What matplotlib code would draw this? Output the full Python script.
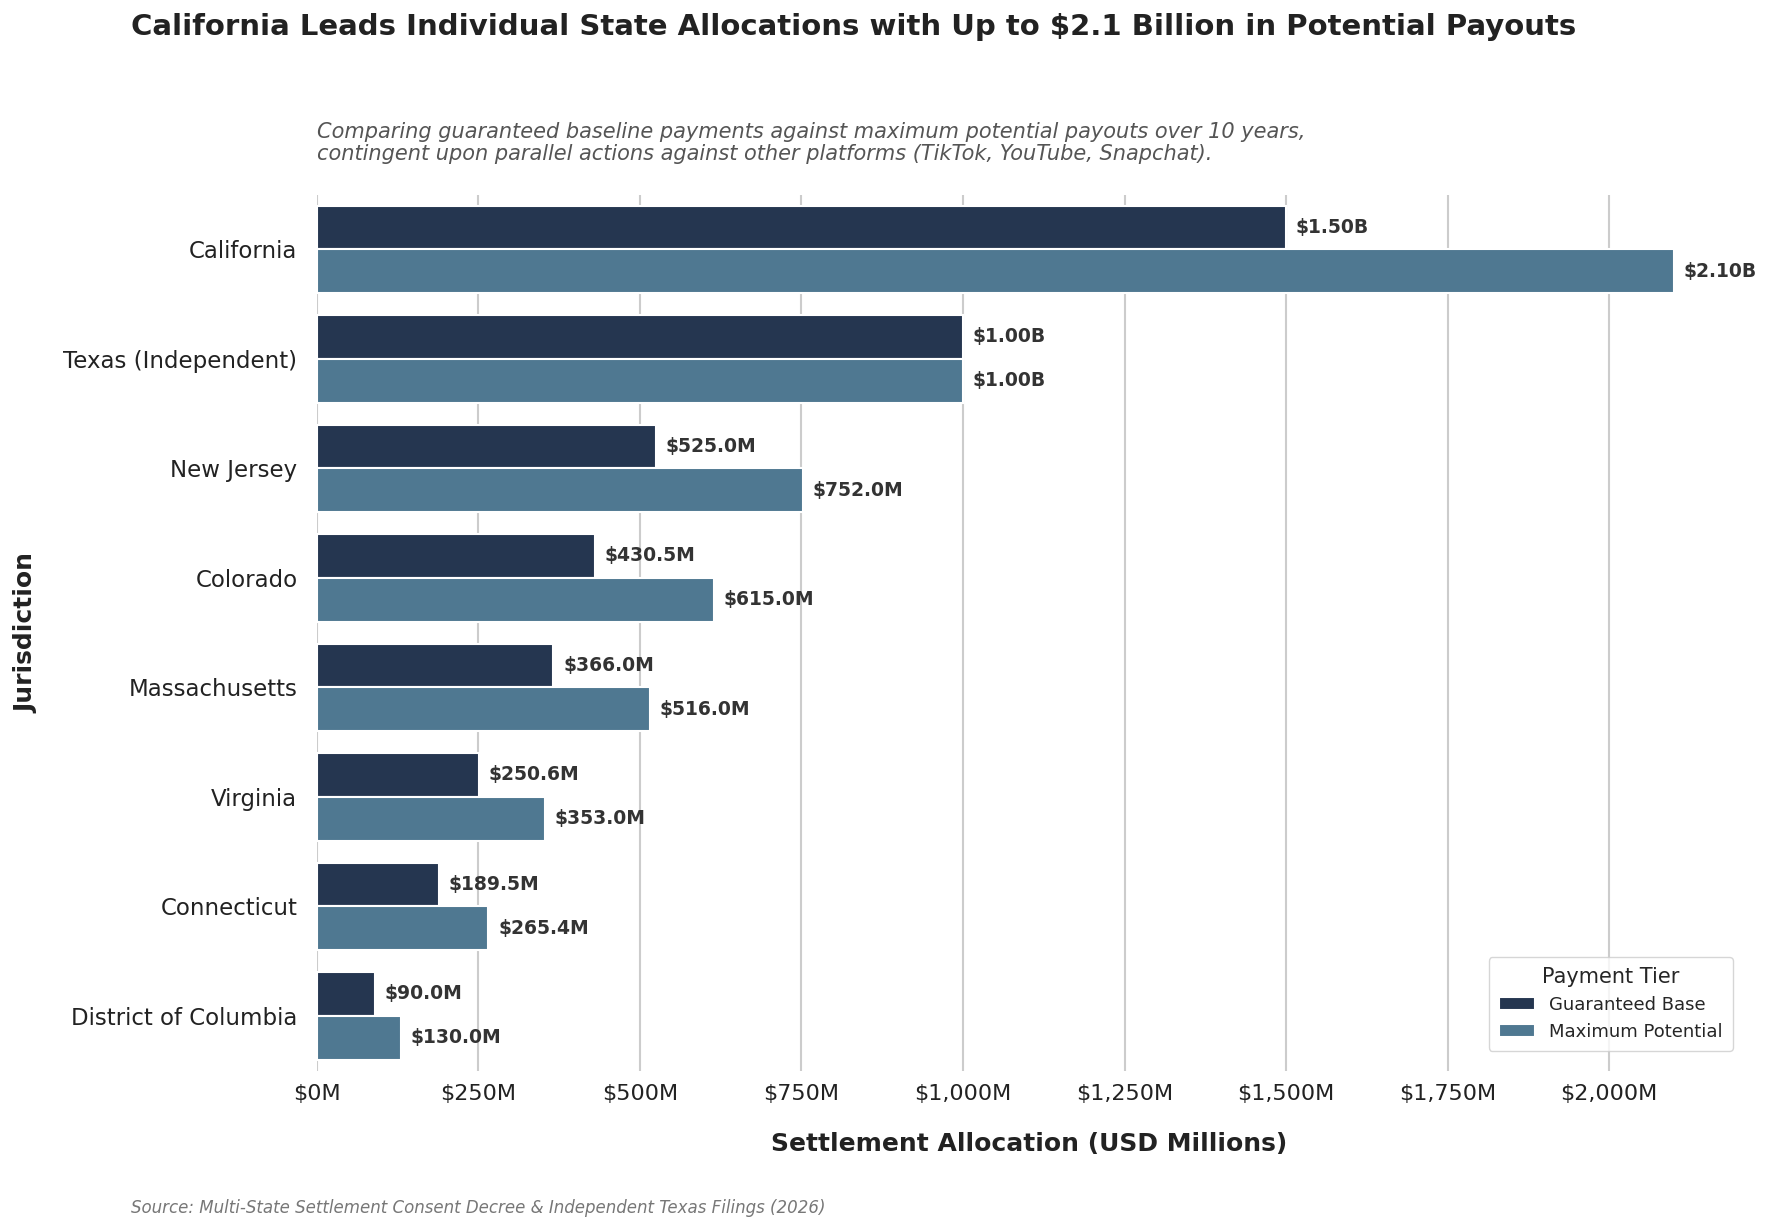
import numpy as np
import matplotlib.pyplot as plt
import seaborn as sns

sns.set_theme(style="whitegrid")
plt.rcParams['font.family'] = ['DejaVu Sans']

# data (USD millions)
states = ['California', 'Texas (Independent)', 'New Jersey', 'Colorado',
          'Massachusetts', 'Virginia', 'Connecticut', 'District of Columbia']
guaranteed = [1500.0, 1000.0, 525.0, 430.5, 366.0, 250.6, 189.5, 90.0]
maximum = [2100.0, 1000.0, 752.0, 615.0, 516.0, 353.0, 265.4, 130.0]
tiers = ['Guaranteed Base', 'Maximum Potential']
colors = ['#253650', '#4f7891']
xticks = [0, 250, 500, 750, 1000, 1250, 1500, 1750, 2000]


def fmt(v):
    if v >= 1000:
        return f"${v / 1000:.2f}B"
    return f"${v:.1f}M"


fig = plt.figure(figsize=(17.7, 12.32), dpi=100)
ax = fig.add_axes([0.179, 0.131, 0.805, 0.711])

y = np.arange(len(states))
h = 0.4
for i, (vals, lab) in enumerate(zip([guaranteed, maximum], tiers)):
    pos = y - h / 2 + i * h
    bars = ax.barh(pos, vals, height=h, color=colors[i], edgecolor='white',
                   linewidth=1.5, label=lab, zorder=3)
    for b, v in zip(bars, vals):
        ax.text(b.get_width() + 15, b.get_y() + b.get_height() / 2, fmt(v),
                va='center', ha='left', fontsize=13.5, fontweight='bold',
                color='#333333', zorder=4)

ax.set_yticks(y)
ax.set_yticklabels(states, fontsize=16.5, color='#222222')
ax.set_ylim(len(states) - 0.5, -0.5)
ax.set_xlim(0, 2205)
ax.set_xticks(xticks)
ax.set_xticklabels([f"${t:,}M" for t in xticks], fontsize=16, color='#222222')
ax.tick_params(axis='x', length=0, pad=10)
ax.tick_params(axis='y', length=0, pad=14)
ax.grid(axis='y', visible=False)
ax.grid(axis='x', color='#cccccc', linewidth=1.5, zorder=0)
for s in ax.spines.values():
    s.set_visible(False)

ax.set_xlabel('Settlement Allocation (USD Millions)', fontsize=18,
              fontweight='bold', labelpad=20, color='#222222')
ax.set_ylabel('Jurisdiction', fontsize=18, fontweight='bold', labelpad=18,
              color='#222222')

leg = ax.legend(title='Payment Tier', loc='lower right', fontsize=13,
                title_fontsize=15, frameon=True, borderpad=0.55,
                bbox_to_anchor=(1.0, 0.012))
leg.get_frame().set_edgecolor('#cccccc')

fig.text(0.074, 0.978, 'California Leads Individual State Allocations with Up to $2.1 Billion in Potential Payouts',
         fontsize=21, fontweight='bold', color='#222222', va='center', ha='left')
ax.text(0.0, 1.035, 'Comparing guaranteed baseline payments against maximum potential payouts over 10 years,\n'
        'contingent upon parallel actions against other platforms (TikTok, YouTube, Snapchat).',
        transform=ax.transAxes, fontsize=15, fontstyle='italic', color='#555555',
        va='bottom', ha='left', linespacing=1.1)
fig.text(0.074, 0.012, 'Source: Multi-State Settlement Consent Decree & Independent Texas Filings (2026)',
         fontsize=12, fontstyle='italic', color='#777777', ha='left', va='bottom')

fig.savefig('out.png', dpi=100)
